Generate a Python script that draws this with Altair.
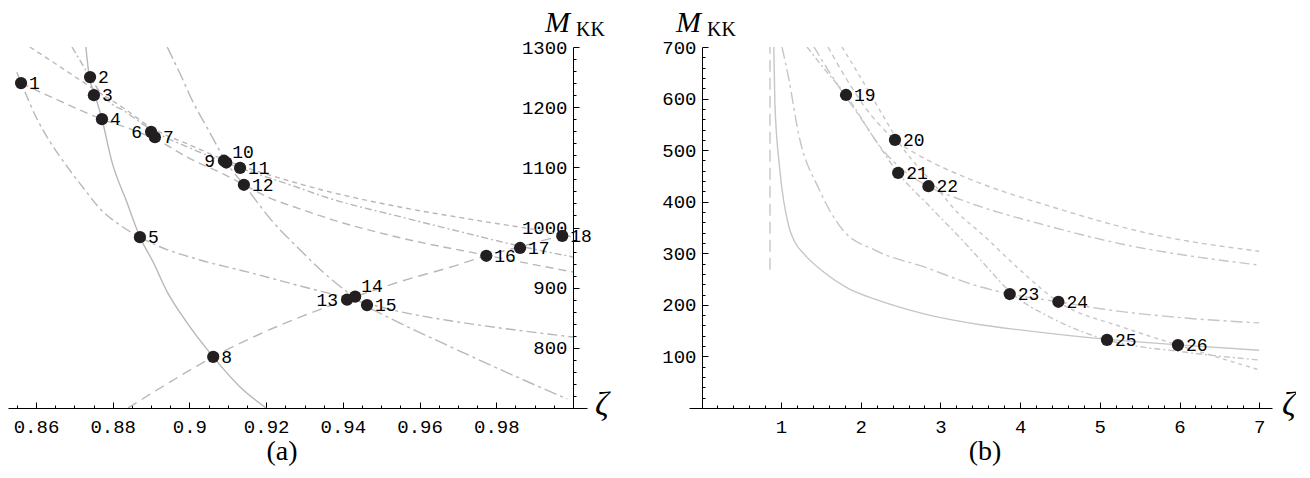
import altair as alt
import pandas as pd

MONO = "Liberation Mono"
SERIF = "Liberation Serif"

# ---------------- Panel (a) data ----------------
A_S_X = [0.8730, 0.8738, 0.8754, 0.8772, 0.8798, 0.8837, 0.8871, 0.8905, 0.8942, 0.8989, 0.9062, 0.9132, 0.9200]
A_S_Y = [1300, 1255, 1220, 1180, 1109, 1042, 984, 943, 893, 846, 785, 735, 700]

A_B_X = [0.8550, 0.8563, 0.8603, 0.8637, 0.8678, 0.8728, 0.8767, 0.8819, 0.8871, 0.8923, 0.9028, 0.9158, 0.9288, 0.9411, 0.9549, 0.9680, 0.9810, 1.0000]
A_B_Y = [1258, 1238, 1180, 1142, 1104, 1062, 1031, 1004, 984, 968, 946, 925, 903, 883, 860, 845, 833, 818]

A_L_X = [0.8840, 0.8949, 0.9062, 0.9184, 0.9288, 0.9411, 0.9549, 0.9680, 0.9773, 0.9862, 0.9972, 1.0000]
A_L_Y = [700, 743, 785, 823, 851, 880, 910, 934, 953, 968, 986, 989]

A_T_X = [0.8942, 0.8976, 0.9009, 0.9046, 0.9075, 0.9095, 0.9119, 0.9142, 0.9218, 0.9288, 0.9348, 0.9411, 0.9458, 0.9505, 0.9680, 0.9810, 0.9985]
A_T_Y = [1300, 1255, 1209, 1166, 1132, 1109, 1089, 1071, 1009, 963, 926, 893, 871, 855, 802, 764, 715]

A_P_X = [0.8584, 0.8663, 0.8741, 0.8827, 0.8900, 0.9002, 0.9093, 0.9236, 0.9367, 0.9549, 0.9758, 0.9972, 1.0000]
A_P_Y = [1300, 1267, 1234, 1199, 1166, 1137, 1112, 1082, 1059, 1034, 1011, 988, 984]

A_Q_X = [0.8694, 0.8720, 0.8741, 0.8767, 0.8798, 0.8827, 0.8871, 0.8910, 0.9002, 0.9132, 0.9262, 0.9367, 0.9549, 0.9706, 0.9862, 1.0000]
A_Q_Y = [1300, 1272, 1250, 1225, 1205, 1195, 1175, 1159, 1132, 1099, 1071, 1048, 1018, 993, 969, 951]

A_F_X = [0.8561, 0.8663, 0.8772, 0.8845, 0.8910, 0.9009, 0.9088, 0.9142, 0.9210, 0.9288, 0.9367, 0.9549, 0.9773, 1.0000]
A_F_Y = [1240, 1210, 1180, 1164, 1147, 1112, 1089, 1071, 1049, 1031, 1014, 983, 954, 926]

A_PT_X = [0.8561, 0.8741, 0.8751, 0.8772, 0.8871, 0.8900, 0.8910, 0.9062, 0.9090, 0.9096, 0.9132, 0.9142, 0.9411, 0.9432, 0.9463, 0.9774, 0.9862, 0.9972]
A_PT_Y = [1240, 1250, 1220, 1180, 984, 1159, 1150, 785, 1111, 1108, 1099, 1071, 880, 885, 871, 953, 966, 986]
A_PT_LABEL = [str(i) for i in range(1, 19)]

A_X_MAJOR = [0.86, 0.88, 0.90, 0.92, 0.94, 0.96, 0.98]
A_X_MINOR = [0.855, 0.865, 0.87, 0.875, 0.885, 0.89, 0.895, 0.905, 0.91, 0.915, 0.925, 0.93, 0.935,
             0.945, 0.95, 0.955, 0.965, 0.97, 0.975, 0.985, 0.99, 0.995]
A_Y_MAJOR = [800, 900, 1000, 1100, 1200, 1300]
A_Y_MINOR = [720, 740, 760, 780, 820, 840, 860, 880, 920, 940, 960, 980, 1020, 1040, 1060, 1080,
             1120, 1140, 1160, 1180, 1220, 1240, 1260, 1280]

# ---------------- Panel (b) data ----------------
B_V_X = [0.862, 0.862]
B_V_Y = [268, 700]
B_S_X = [0.910, 0.923, 0.985, 1.098, 1.174, 1.299, 1.515, 1.853, 2.179, 2.807, 3.523, 4.025, 5.029, 6.033, 6.999]
B_S_Y = [700, 593, 463, 352, 322, 297, 266, 231, 211, 182, 161, 151, 134, 122, 112]
B_LDD_X = [1.013, 1.098, 1.224, 1.475, 1.766, 2.180, 2.807, 3.435, 3.874, 4.476, 5.029, 6.033, 6.999]
B_LDD_Y = [700, 638, 529, 425, 347, 306, 273, 238, 221, 206, 192, 175, 165]
B_U1_X = [1.590, 1.829, 2.080, 2.430, 2.707, 3.021, 3.397, 4.401, 5.656, 6.999]
B_U1_Y = [700, 636, 578, 520, 492, 467, 442, 390, 337, 304]
B_U2_X = [1.415, 1.703, 1.992, 2.268, 2.557, 2.845, 3.272, 4.401, 5.154, 6.999]
B_U2_Y = [700, 628, 564, 502, 458, 430, 403, 351, 322, 277]
B_U3_X = [1.327, 1.578, 1.816, 2.143, 2.469, 2.896, 3.272, 3.586, 3.875, 4.402, 5.093, 6.034, 6.999]
B_U3_Y = [700, 651, 607, 529, 456, 386, 326, 273, 225, 174, 132, 109, 93]
B_U4_X = [1.766, 2.017, 2.268, 2.519, 2.896, 3.209, 3.523, 4.025, 4.477, 5.280, 5.983, 6.999]
B_U4_Y = [700, 636, 570, 506, 438, 380, 337, 264, 206, 157, 122, 74]

B_PT_X = [1.816, 2.43, 2.47, 2.85, 3.87, 4.48, 5.09, 5.98]
B_PT_Y = [607, 520, 456, 430, 221, 206, 132, 122]
B_PT_LABEL = [str(i) for i in range(19, 27)]

B_X_MAJOR = [1, 2, 3, 4, 5, 6, 7]
B_X_MINOR = [round(0.2 * i, 1) for i in range(1, 36) if i % 5 != 0]
B_Y_MAJOR = [100, 200, 300, 400, 500, 600, 700]
B_Y_MINOR = [v for v in range(20, 700, 20) if v % 100 != 0]

LEFT_LABELS = ["6", "9", "13"]
UP_LABELS = ["10", "14"]

GRAY_A = "#b8b8b8"
GRAY_B = "#c6c6c6"
DOT = "#231f20"


def make_panel(curves, px, py, plabels, xdom, ydom, W, H, xmaj, xmin, ymaj, ymin, yoff, xfmt,
               mx, kx, zx, cap, capx):
    xs = alt.Scale(domain=xdom, nice=False, zero=False)
    ys = alt.Scale(domain=ydom, nice=False, zero=False)
    maj_x = alt.Axis(orient="top", offset=-H, values=xmaj, format=xfmt, tickSize=6, tickColor="black",
                     domainColor="black", labelFont=MONO, labelFontSize=19, labelColor="black",
                     labelBaseline="top", labelPadding=-15, labelFlush=False, labelOverlap=False,
                     grid=False, title=None, tickWidth=1, domainWidth=1)
    min_x = alt.Axis(orient="top", offset=-H, values=xmin, labels=False, tickSize=3, tickColor="black",
                     domain=False, grid=False, title=None, tickWidth=1)
    maj_y = alt.Axis(orient="right", offset=yoff, values=ymaj, format="d", tickSize=6, tickColor="black",
                     domainColor="black", labelFont=MONO, labelFontSize=19, labelColor="black",
                     labelAlign="right", labelBaseline="middle", labelPadding=-12, labelFlush=False,
                     labelOverlap=False, grid=False, title=None, tickWidth=1, domainWidth=1)
    min_y = alt.Axis(orient="right", offset=yoff, values=ymin, labels=False, tickSize=3, tickColor="black",
                     domain=False, grid=False, title=None, tickWidth=1)

    layers = []
    for k, (cx, cy, dash, color, interp) in enumerate(curves):
        df = pd.DataFrame({"x": cx, "y": cy, "i": list(range(len(cx)))})
        kw = {"color": color, "strokeWidth": 1.4, "clip": True, "interpolate": interp}
        if dash:
            kw["strokeDash"] = dash
        layers.append(alt.Chart(df).mark_line(**kw).encode(
            x=alt.X("x:Q", scale=xs, axis=maj_x if k == 0 else None),
            y=alt.Y("y:Q", scale=ys, axis=maj_y if k == 0 else None),
            order="i:Q"))

    pdf = pd.DataFrame({"x": px, "y": py, "lab": plabels})
    layers.append(alt.Chart(pdf).mark_circle(size=150, color=DOT, opacity=1).encode(
        x=alt.X("x:Q", scale=xs, axis=min_x),
        y=alt.Y("y:Q", scale=ys, axis=min_y)))

    tkw = dict(font=MONO, fontSize=18, color="black", baseline="middle")
    base = alt.Chart(pdf)
    right = base.transform_filter(
        ~alt.FieldOneOfPredicate(field="lab", oneOf=LEFT_LABELS + UP_LABELS)
    ).mark_text(align="left", dx=8, dy=1, **tkw).encode(
        x=alt.X("x:Q", scale=xs, axis=None), y=alt.Y("y:Q", scale=ys, axis=None), text="lab:N")
    left = base.transform_filter(
        alt.FieldOneOfPredicate(field="lab", oneOf=LEFT_LABELS)
    ).mark_text(align="right", dx=-9, dy=1, **tkw).encode(
        x=alt.X("x:Q", scale=xs, axis=None), y=alt.Y("y:Q", scale=ys, axis=None), text="lab:N")
    up = base.transform_filter(
        alt.FieldOneOfPredicate(field="lab", oneOf=UP_LABELS)
    ).mark_text(align="left", dx=6, dy=-10, **tkw).encode(
        x=alt.X("x:Q", scale=xs, axis=None), y=alt.Y("y:Q", scale=ys, axis=None), text="lab:N")
    layers += [right, left, up]

    one = pd.DataFrame({"t": [0]})
    layers.append(alt.Chart(one).mark_text(text="M", font=SERIF, fontStyle="italic", fontSize=30,
                                           align="left", baseline="alphabetic", color="black").encode(
        x=alt.value(mx), y=alt.value(-15)))
    layers.append(alt.Chart(one).mark_text(text="KK", font=SERIF, fontSize=20,
                                           align="left", baseline="alphabetic", color="black").encode(
        x=alt.value(kx), y=alt.value(-11)))
    layers.append(alt.Chart(one).mark_text(text="ζ", font=SERIF, fontStyle="italic", fontSize=34,
                                           align="left", baseline="alphabetic", color="black").encode(
        x=alt.value(zx), y=alt.value(H + 7)))
    layers.append(alt.Chart(one).mark_text(text=cap, font=SERIF, fontSize=28,
                                           align="center", baseline="alphabetic", color="black").encode(
        x=alt.value(capx), y=alt.value(H + 52)))

    return alt.layer(*layers).resolve_axis(x="independent", y="independent").properties(width=W, height=H)


H = 361
WA = 579
WB = 583

pa = make_panel(
    [(A_S_X, A_S_Y, None, GRAY_A, "monotone"),
     (A_B_X, A_B_Y, [10, 4, 3, 4], GRAY_A, "monotone"),
     (A_L_X, A_L_Y, [10, 6], GRAY_A, "monotone"),
     (A_T_X, A_T_Y, [13, 4, 3, 4], GRAY_A, "monotone"),
     (A_P_X, A_P_Y, [5, 4], GRAY_A, "monotone"),
     (A_Q_X, A_Q_Y, [7, 3, 2, 3], GRAY_A, "monotone"),
     (A_F_X, A_F_Y, [8, 5], GRAY_A, "monotone")],
    A_PT_X, A_PT_Y, A_PT_LABEL,
    [0.8527, 1.00365], [700, 1300], WA, H,
    A_X_MAJOR, A_X_MINOR, A_Y_MAJOR, A_Y_MINOR, -14, ".2~f",
    537, 568, 587, "(a)", 274)

pb = make_panel(
    [(B_S_X, B_S_Y, None, GRAY_B, "monotone"),
     (B_V_X, B_V_Y, [12, 6], GRAY_B, "linear"),
     (B_LDD_X, B_LDD_Y, [12, 4, 3, 4], GRAY_B, "monotone"),
     (B_U1_X, B_U1_Y, [5, 4], GRAY_B, "monotone"),
     (B_U2_X, B_U2_Y, [10, 4, 3, 4], GRAY_B, "monotone"),
     (B_U3_X, B_U3_Y, [6, 3, 2, 3], GRAY_B, "monotone"),
     (B_U4_X, B_U4_Y, [4, 4], GRAY_B, "monotone")],
    B_PT_X, B_PT_Y, B_PT_LABEL,
    [-0.154, 7.16], [0, 700], WB, H,
    B_X_MAJOR, B_X_MINOR, B_Y_MAJOR, B_Y_MINOR, -570, "d",
    -13, 18, 593, "(b)", 296)

chart = alt.hconcat(pa, pb, spacing=52).configure_view(stroke=None).properties(
    padding={"left": 0, "top": 0, "right": 0, "bottom": 0}, background="white")

chart.save("out.html", embed_options={"renderer": "svg", "actions": False})
